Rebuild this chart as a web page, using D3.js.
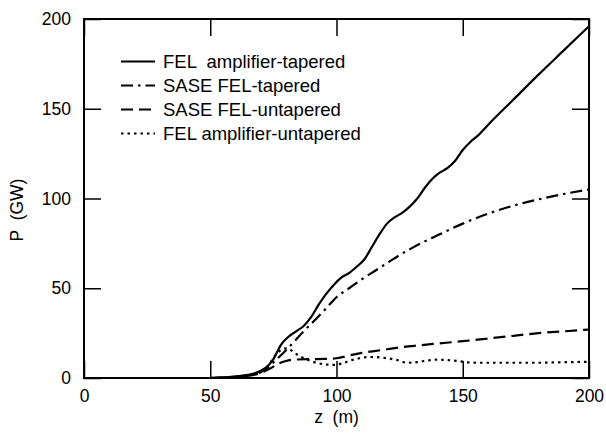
<!DOCTYPE html>
<html>
<head>
<meta charset="utf-8">
<script src="https://cdn.jsdelivr.net/npm/d3@7"></script>
<style>
  body { margin: 0; background: #fff; }
  svg text { font-family: "Liberation Sans", Arial, Helvetica, sans-serif; fill: #000; white-space: pre; }
</style>
</head>
<body>
<svg class="js-chart" width="606" height="436"></svg>
<script>
// data
var xTicks = [0, 50, 100, 150, 200],
    yTicks = [0, 50, 100, 150, 200];

var seriesNames = ['FEL  amplifier-tapered', 'SASE FEL-tapered', 'SASE FEL-untapered', 'FEL amplifier-untapered'];

var ampTaperedZ = [50, 55, 60, 65, 70, 73, 75, 78, 81, 84, 87, 90, 93, 96, 99, 102, 105, 108, 111, 114, 117, 120, 123, 126, 129, 132, 135, 138, 141, 144, 147, 150, 153, 156, 160, 170, 180, 190, 200],
    ampTaperedP = [0, 0.3, 0.9, 1.7, 4, 7, 10.5, 18.5, 23, 26, 29, 34, 41, 47, 52, 56, 58.5, 62, 66, 73, 80, 86, 89.5, 92, 95.5, 100, 106, 111, 114.5, 117, 121, 127, 131.5, 135, 141, 155, 169, 182.5, 196];

var saseTaperedZ = [50, 55, 60, 65, 70, 73, 76, 80, 84, 88, 92, 96, 100, 105, 110, 115, 120, 125, 130, 140, 150, 160, 170, 180, 190, 200],
    saseTaperedP = [0, 0.2, 0.6, 1.5, 3.2, 6, 10, 15.5, 21.5, 27.5, 33, 39, 45, 50, 55, 59.5, 64, 68.5, 72.5, 79.5, 86, 91.5, 96, 99.5, 102.5, 105];

var saseUntaperedZ = [50, 55, 60, 65, 70, 74, 77, 80, 84, 90, 95, 100, 105, 110, 115, 120, 125, 130, 140, 150, 160, 170, 180, 190, 200],
    saseUntaperedP = [0, 0.2, 0.5, 1.2, 2.8, 5.5, 8, 9.5, 10.3, 10.5, 10.6, 11, 12.5, 14, 15, 16, 17, 17.8, 19.2, 20.5, 22, 23.5, 25, 26, 27];

var ampUntaperedZ = [50, 55, 60, 65, 70, 73, 76, 78, 80, 82, 85, 88, 92, 96, 99, 102, 105, 109, 113, 117, 120, 124, 128, 132, 136, 140, 144, 148, 152, 156, 160, 170, 180, 190, 200],
    ampUntaperedP = [0, 0.2, 0.6, 1.5, 3.5, 7, 13, 15.5, 16.5, 15.5, 12.5, 10.5, 8.5, 7.5, 7.3, 8, 9.5, 11, 11.7, 11.5, 11, 10, 8.5, 8.8, 9.8, 10.2, 10, 9.5, 8.7, 8.5, 8.5, 8.5, 8.5, 8.8, 9];

// layout
var plotLeft = 84, plotRight = 589, plotTop = 19, plotBottom = 378,
    tickLen = 17;

var x = d3.scaleLinear().domain([0, 200]).range([plotLeft, plotRight]),
    y = d3.scaleLinear().domain([0, 200]).range([plotBottom, plotTop]);

var svg = d3.select('.js-chart');

// ticks on all four sides, pointing inwards
svg.append('g')
    .attr('transform', 'translate(0,' + plotBottom + ')')
    .call(d3.axisBottom(x).tickValues(xTicks).tickSizeInner(-tickLen).tickSizeOuter(0).tickPadding(12))
    .call(function (g) { g.select('.domain').remove(); });
svg.append('g')
    .attr('transform', 'translate(0,' + plotTop + ')')
    .call(d3.axisTop(x).tickValues(xTicks).tickSizeInner(-tickLen).tickSizeOuter(0).tickFormat(''))
    .call(function (g) { g.select('.domain').remove(); });
svg.append('g')
    .attr('transform', 'translate(' + plotLeft + ',0)')
    .call(d3.axisLeft(y).tickValues(yTicks).tickSizeInner(-tickLen).tickSizeOuter(0).tickPadding(13))
    .call(function (g) { g.select('.domain').remove(); });
svg.append('g')
    .attr('transform', 'translate(' + plotRight + ',0)')
    .call(d3.axisRight(y).tickValues(yTicks).tickSizeInner(-tickLen).tickSizeOuter(0).tickFormat(''))
    .call(function (g) { g.select('.domain').remove(); });

svg.selectAll('.tick line').attr('stroke', '#000').attr('stroke-width', 1.5);
svg.selectAll('.tick text').attr('font-size', 17.5).attr('font-family', '"Liberation Sans", Arial, sans-serif');

// frame
svg.append('rect')
    .attr('x', plotLeft).attr('y', plotTop)
    .attr('width', plotRight - plotLeft).attr('height', plotBottom - plotTop)
    .attr('fill', 'none').attr('stroke', '#000').attr('stroke-width', 2);

// curves
var series = [
  { z: ampTaperedZ, p: ampTaperedP, dash: null },
  { z: saseTaperedZ, p: saseTaperedP, dash: '12,5,2.5,5' },
  { z: saseUntaperedZ, p: saseUntaperedP, dash: '12,6' },
  { z: ampUntaperedZ, p: ampUntaperedP, dash: '2.5,4' }
];

var line = d3.line()
    .x(function (d) { return x(d[0]); })
    .y(function (d) { return y(d[1]); })
    .curve(d3.curveMonotoneX);

svg.append('g').selectAll('path')
    .data(series)
    .enter().append('path')
    .attr('d', function (s) { return line(d3.zip(s.z, s.p)); })
    .attr('fill', 'none')
    .attr('stroke', '#000')
    .attr('stroke-width', 2.2)
    .attr('stroke-dasharray', function (s) { return s.dash; });

// legend
var legend = svg.append('g').selectAll('g')
    .data(series)
    .enter().append('g')
    .attr('transform', function (d, i) { return 'translate(0,' + (61.5 + i * 24) + ')'; });

legend.append('line')
    .attr('x1', 121).attr('x2', 155)
    .attr('stroke', '#000').attr('stroke-width', 2)
    .attr('stroke-dasharray', function (s) { return s.dash; });

legend.append('text')
    .attr('x', 163).attr('y', 6.5)
    .attr('font-size', 18.5)
    .text(function (d, i) { return seriesNames[i]; });

// axis titles
svg.append('text')
    .attr('x', (plotLeft + plotRight) / 2).attr('y', 423)
    .attr('text-anchor', 'middle').attr('font-size', 17.5)
    .text('z  (m)');

svg.append('text')
    .attr('transform', 'translate(23,210) rotate(-90)')
    .attr('text-anchor', 'middle').attr('font-size', 17.5)
    .text('P  (GW)');
</script>
</body>
</html>
